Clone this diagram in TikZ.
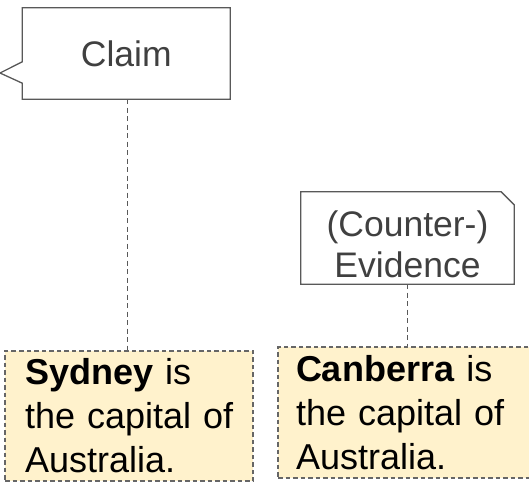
\documentclass[tikz,border=0pt]{standalone}
\usepackage{fontspec}
\setmainfont{Liberation Sans}
\usetikzlibrary{calc}

\definecolor{outline}{HTML}{595959}
\definecolor{labelgray}{HTML}{404040}
\definecolor{notefill}{HTML}{FFF2CC}
\definecolor{dashgray}{HTML}{666666}
\definecolor{linkgray}{HTML}{595959}

\tikzset{
  headbox/.style={draw=none, inner sep=0pt},
  headtext/.style={inner sep=0pt, text=labelgray, align=center,
    font=\fontsize{35.5}{41}\selectfont},
  headline/.style={draw=outline, line width=1.3pt, line join=miter},
  notebox/.style={fill=notefill, draw=dashgray, line width=1.2pt,
    dash pattern=on 4.5pt off 3pt, inner xsep=18pt, inner ysep=0pt,
    align=left, text=black, font=\fontsize{36}{44}\selectfont},
  link/.style={draw=linkgray, line width=1.4pt, dash pattern=on 5pt off 3.5pt}
}

\begin{document}
\begin{tikzpicture}[x=1pt, y=-1pt]
  \useasboundingbox (0,0) rectangle (529,482);
  \clip (0,0) rectangle (529,482);

  % claim callout with a pointer on its left side
  \node[headbox, minimum width=207.5pt, minimum height=91pt] (claim) at (126.25,53.5) {};
  \node[headtext] (claimtext) at (claim.center) {Claim};
  \draw[headline] (claim.north west) -- (claim.north east) -- (claim.south east)
    -- (claim.south west) -- ($(claim.south west)+(0,-16)$) -- (0,73)
    -- ($(claim.north west)+(0,54)$) -- cycle;

  % evidence note with a clipped corner
  \node[headbox, minimum width=213pt, minimum height=92pt] (evid) at (407.5,238) {};
  \node[headtext] (evidtext) at ($(evid.center)+(0,6)$) {(Counter-)\\Evidence};
  \draw[headline] (evid.north west) -- ($(evid.north east)+(-13,0)$)
    -- ($(evid.north east)+(0,13)$) -- (evid.south east) -- (evid.south west) -- cycle;

  % statement boxes
  \node[notebox, text width=212pt, minimum width=248pt, minimum height=130pt] (syd)
    at (129,416) {\hspace*{2pt}\textbf{Sydney} is\\\hspace*{2pt}the capital of\\\hspace*{2pt}Australia.};
  \node[notebox, text width=226pt, minimum width=262pt, minimum height=131pt] (can)
    at (409,412.5) {\textbf{Canberra} is\\the capital of\\Australia.};

  % dashed links
  \coordinate (claimfoot) at ($(claim.south)+(1,0)$);
  \draw[link] (claimfoot) -- (claimfoot |- syd.north);
  \draw[link] (evid.south) -- (evid.south |- can.north);
\end{tikzpicture}
\end{document}
